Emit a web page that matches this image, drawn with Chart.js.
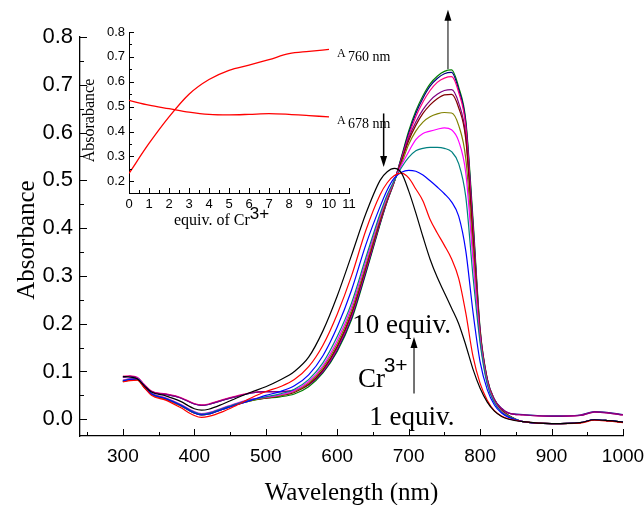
<!DOCTYPE html>
<html>
<head>
<meta charset="utf-8">
<script src="https://cdn.jsdelivr.net/npm/chart.js@4/dist/chart.umd.min.js"></script>
<style>
html,body{margin:0;padding:0;background:#fff;}
#wrap{position:relative;width:644px;height:505px;}
#wrap canvas{position:absolute;left:0;top:0;}
</style>
</head>
<body>
<div id="wrap">
<canvas id="main" width="644" height="505"></canvas>
<canvas id="inset" width="644" height="505"></canvas>
</div>
<script>
// ---------- main spectra data ----------
const wavelengths = [300,310,320,330,340,360,380,400,410,420,440,460,480,500,520,540,560,580,600,620,640,660,670,680,690,700,710,720,730,740,750,760,770,780,790,800,810,820,830,840,860,900,940,960,980,1000];

const eq1Black = [0.090,0.088,0.085,0.070,0.057,0.049,0.038,0.022,0.019,0.021,0.032,0.045,0.057,
  0.068,0.082,0.100,0.130,0.185,0.258,0.343,0.430,0.500,0.518,0.525,0.515,0.478,0.432,0.382,0.335,0.297,0.265,0.233,0.200,0.155,0.105,0.065,0.036,0.017,0.006,0.000,
  -0.005,-0.009,-0.007,-0.001,-0.003,-0.006];
const eq2Red = [0.078,0.081,0.082,0.066,0.050,0.040,0.025,0.008,0.004,0.006,0.016,0.030,0.045,
  0.058,0.068,0.083,0.110,0.155,0.220,0.300,0.395,0.470,0.495,0.510,0.515,0.505,0.482,0.457,0.418,0.390,0.364,0.336,0.295,0.222,0.132,0.075,0.040,0.018,0.007,0.001,
  -0.005,-0.009,-0.008,-0.002,-0.004,-0.007];
const eq3Blue = [0.080,0.083,0.084,0.068,0.053,0.043,0.030,0.013,0.009,0.011,0.021,0.031,0.040,
  0.050,0.058,0.070,0.093,0.133,0.193,0.270,0.365,0.445,0.480,0.505,0.517,0.521,0.519,0.511,0.499,0.486,0.472,0.455,0.425,0.352,0.225,0.120,0.062,0.030,0.013,0.004,
  -0.005,-0.009,-0.007,-0.001,-0.003,-0.006];
const eq4Teal = [0.081,0.084,0.085,0.069,0.054,0.044,0.031,0.015,0.011,0.013,0.023,0.033,0.041,
  0.047,0.053,0.063,0.083,0.118,0.173,0.243,0.338,0.430,0.470,0.500,0.527,0.548,0.562,0.567,0.569,0.569,0.567,0.560,0.535,0.465,0.300,0.160,0.073,0.035,0.015,0.006,
  -0.005,-0.009,-0.007,-0.001,-0.003,-0.006];
const eq5Magenta = [0.082,0.085,0.086,0.070,0.055,0.045,0.032,0.016,0.012,0.014,0.024,0.034,0.042,
  0.046,0.051,0.060,0.079,0.112,0.165,0.235,0.330,0.425,0.466,0.500,0.532,0.560,0.585,0.598,0.603,0.607,0.610,0.606,0.582,0.515,0.335,0.168,0.076,0.036,0.016,0.006,
  -0.005,-0.009,-0.007,-0.001,-0.003,-0.006];
const eq6Olive = [0.079,0.082,0.083,0.067,0.052,0.042,0.029,0.013,0.009,0.011,0.021,0.031,0.039,
  0.045,0.050,0.058,0.076,0.108,0.158,0.228,0.323,0.420,0.463,0.499,0.535,0.575,0.603,0.622,0.633,0.639,0.642,0.641,0.615,0.545,0.355,0.172,0.078,0.037,0.017,0.007,
  -0.005,-0.009,-0.007,-0.001,-0.003,-0.006];
const eq7Maroon = [0.080,0.083,0.084,0.068,0.053,0.043,0.030,0.014,0.010,0.012,0.022,0.032,0.040,
  0.044,0.049,0.056,0.073,0.104,0.153,0.222,0.318,0.416,0.461,0.499,0.540,0.583,0.615,0.640,0.658,0.671,0.679,0.680,0.652,0.585,0.380,0.178,0.080,0.038,0.018,0.008,
  -0.005,-0.009,-0.007,-0.001,-0.003,-0.006];
const eq8Purple = [0.088,0.090,0.087,0.072,0.058,0.052,0.045,0.032,0.029,0.031,0.040,0.048,0.055,
  0.058,0.058,0.060,0.072,0.102,0.150,0.219,0.315,0.414,0.460,0.499,0.542,0.588,0.622,0.648,0.667,0.680,0.688,0.690,0.662,0.592,0.385,0.180,0.082,0.040,0.022,0.013,
  0.009,0.006,0.008,0.015,0.013,0.009];
const eq9Pink = [0.090,0.091,0.088,0.073,0.059,0.053,0.046,0.033,0.030,0.032,0.041,0.049,0.056,
  0.058,0.058,0.061,0.074,0.101,0.148,0.216,0.312,0.412,0.458,0.498,0.545,0.593,0.633,0.664,0.688,0.705,0.714,0.717,0.684,0.612,0.400,0.183,0.083,0.041,0.022,0.013,
  0.009,0.006,0.008,0.015,0.013,0.009];
const eq10Navy = [0.088,0.090,0.087,0.072,0.058,0.052,0.045,0.032,0.029,0.031,0.040,0.048,0.055,
  0.058,0.058,0.060,0.072,0.099,0.145,0.212,0.308,0.410,0.457,0.498,0.548,0.598,0.640,0.672,0.697,0.713,0.723,0.726,0.690,0.620,0.410,0.186,0.084,0.042,0.023,0.013,
  0.010,0.007,0.009,0.016,0.014,0.010];
const eq11Green = [0.079,0.082,0.083,0.067,0.052,0.042,0.029,0.013,0.009,0.011,0.021,0.031,0.039,
  0.044,0.047,0.053,0.068,0.097,0.142,0.208,0.305,0.408,0.456,0.497,0.550,0.603,0.645,0.677,0.702,0.718,0.728,0.731,0.695,0.625,0.420,0.190,0.085,0.042,0.020,0.008,
  -0.005,-0.009,-0.007,-0.001,-0.003,-0.006];

const seriesList = [eq1Black, eq2Red, eq3Blue, eq4Teal, eq5Magenta, eq6Olive, eq7Maroon, eq8Purple, eq9Pink, eq10Navy, eq11Green];
const seriesColors = ['#000000','#ff0000','#0000ff','#008080','#ff00ff','#808000','#800000','#800080','#ff0080','#000080','#008000'];

const xTickValues = [300,400,500,600,700,800,900,1000];
const xMinorTicks = [250,350,450,550,650,750,850,950];
const yTickValues = [0.0,0.1,0.2,0.3,0.4,0.5,0.6,0.7,0.8];
const yMinorTicks = [-0.05,0.05,0.15,0.25,0.35,0.45,0.55,0.65,0.75];

// ---------- inset data ----------
const equivs = [0,1,2,3,4,5,6,7,8,9,10];
const a760 = [0.232,0.352,0.459,0.550,0.609,0.646,0.667,0.689,0.713,0.722,0.730];
const a678 = [0.525,0.506,0.492,0.478,0.469,0.467,0.469,0.472,0.469,0.464,0.459];
const insetXTicks = [0,1,2,3,4,5,6,7,8,9,10,11];
const insetXMinor = [0.5,1.5,2.5,3.5,4.5,5.5,6.5,7.5,8.5,9.5,10.5];
const insetYTicks = [0.2,0.3,0.4,0.5,0.6,0.7,0.8];
const insetYMinor = [0.25,0.35,0.45,0.55,0.65,0.75];

const SANS = '"Liberation Sans", Arial, sans-serif';
const SERIF = '"Liberation Serif", "Times New Roman", serif';

function arrow(ctx, x, y1, y2, lineColor) {
  const dir = y2 < y1 ? -1 : 1;
  ctx.save();
  ctx.strokeStyle = lineColor; ctx.lineWidth = 1.5;
  ctx.beginPath(); ctx.moveTo(x, y1); ctx.lineTo(x, y2 - dir * 8); ctx.stroke();
  ctx.fillStyle = '#000';
  ctx.beginPath();
  ctx.moveTo(x, y2);
  ctx.lineTo(x - 3.5, y2 - dir * 11);
  ctx.lineTo(x + 3.5, y2 - dir * 11);
  ctx.closePath(); ctx.fill();
  ctx.restore();
}

function drawInwardTicks(ctx, chart, xMaj, xMin, yMaj, yMin, majLen, minLen) {
  const xs = chart.scales.x, ys = chart.scales.y, a = chart.chartArea;
  ctx.save();
  ctx.strokeStyle = '#000'; ctx.lineWidth = 1;
  ctx.beginPath();
  xMaj.forEach(v => { const p = Math.round(xs.getPixelForValue(v)) + 0.5; ctx.moveTo(p, a.bottom); ctx.lineTo(p, a.bottom - majLen); });
  xMin.forEach(v => { const p = Math.round(xs.getPixelForValue(v)) + 0.5; ctx.moveTo(p, a.bottom); ctx.lineTo(p, a.bottom - minLen); });
  yMaj.forEach(v => { const p = Math.round(ys.getPixelForValue(v)) + 0.5; ctx.moveTo(a.left, p); ctx.lineTo(a.left + majLen, p); });
  yMin.forEach(v => { if (v < ys.min || v > ys.max) return; const p = Math.round(ys.getPixelForValue(v)) + 0.5; ctx.moveTo(a.left, p); ctx.lineTo(a.left + minLen, p); });
  ctx.stroke();
  ctx.restore();
}

const mainDecor = {
  id: 'mainDecor',
  afterDraw(chart) {
    const ctx = chart.ctx, xs = chart.scales.x, ys = chart.scales.y, a = chart.chartArea;
    drawInwardTicks(ctx, chart, xTickValues, xMinorTicks, yTickValues, yMinorTicks, 7, 4);
    ctx.save();
    ctx.fillStyle = '#000';
    ctx.font = '25px ' + SERIF;
    ctx.textAlign = 'center'; ctx.textBaseline = 'alphabetic';
    ctx.fillText('Wavelength (nm)', (a.left + a.right) / 2, 500);
    ctx.save();
    ctx.translate(34, 240); ctx.rotate(-Math.PI / 2);
    ctx.fillText('Absorbance', 0, 0);
    ctx.restore();
    arrow(ctx, xs.getPixelForValue(755), ys.getPixelForValue(0.733), ys.getPixelForValue(0.857), '#555');
    arrow(ctx, xs.getPixelForValue(665), ys.getPixelForValue(0.64), ys.getPixelForValue(0.528), '#000');
    arrow(ctx, xs.getPixelForValue(707.5), ys.getPixelForValue(0.054), ys.getPixelForValue(0.172), '#444');
    ctx.textAlign = 'left';
    ctx.font = '27px ' + SERIF;
    ctx.fillText('10 equiv.', xs.getPixelForValue(621), ys.getPixelForValue(0.18));
    ctx.fillText('Cr', xs.getPixelForValue(629), ys.getPixelForValue(0.067));
    ctx.fillText('1 equiv.', xs.getPixelForValue(645), ys.getPixelForValue(-0.013));
    ctx.font = '21px ' + SANS;
    ctx.fillText('3+', xs.getPixelForValue(665), ys.getPixelForValue(0.098));
    ctx.restore();
  }
};

new Chart(document.getElementById('main'), {
  type: 'line',
  data: {
    labels: wavelengths,
    datasets: seriesList.map((s, i) => ({
      data: s.map((v, j) => ({x: wavelengths[j], y: v})),
      borderColor: seriesColors[i],
      borderWidth: 1.2,
      pointRadius: 0,
      fill: false,
      cubicInterpolationMode: 'monotone'
    }))
  },
  options: {
    responsive: false, devicePixelRatio: 1, animation: false, events: [],
    layout: {padding: {left: 0, top: 37, right: 21, bottom: 0}},
    plugins: {legend: {display: false}, tooltip: {enabled: false}},
    scales: {
      x: {
        type: 'linear', min: 240, max: 1000,
        afterFit: s => { s.height = 69; s.paddingLeft = 0; s.paddingRight = 0; },
        afterBuildTicks: s => { s.ticks = xTickValues.map(v => ({value: v})); },
        grid: {display: false, drawTicks: false},
        border: {display: true, color: '#000', width: 1.3},
        ticks: {color: '#000', font: {family: SANS, size: 19}, padding: 9, maxRotation: 0, autoSkip: false, callback: v => String(v)}
      },
      y: {
        type: 'linear', min: -0.035, max: 0.8,
        afterFit: s => { s.width = 80; s.paddingTop = 0; s.paddingBottom = 0; },
        afterBuildTicks: s => { s.ticks = yTickValues.map(v => ({value: v})); },
        grid: {display: false, drawTicks: false},
        border: {display: true, color: '#000', width: 1.3},
        ticks: {color: '#000', font: {family: SANS, size: 22}, padding: 7, autoSkip: false, callback: v => Number(v).toFixed(1)}
      }
    }
  },
  plugins: [mainDecor]
});

const insetDecor = {
  id: 'insetDecor',
  afterDraw(chart) {
    const ctx = chart.ctx, xs = chart.scales.x, ys = chart.scales.y, a = chart.chartArea;
    drawInwardTicks(ctx, chart, insetXTicks, insetXMinor, insetYTicks, insetYMinor, 5, 3);
    ctx.save();
    ctx.fillStyle = '#000';
    ctx.textBaseline = 'alphabetic'; ctx.textAlign = 'left';
    ctx.font = '16px ' + SERIF;
    const tx = a.left + 45;
    ctx.fillText('equiv. of Cr', tx, 225);
    const w = ctx.measureText('equiv. of Cr').width;
    ctx.font = '17px ' + SANS;
    ctx.fillText('3+', tx + w, 219);
    ctx.font = '16px ' + SERIF;
    ctx.save();
    ctx.translate(a.left - 35, (a.top + a.bottom) / 2 + 8);
    ctx.rotate(-Math.PI / 2);
    ctx.textAlign = 'center';
    ctx.fillText('Absorabance', 0, 0);
    ctx.restore();
    ctx.font = '12px ' + SERIF;
    ctx.fillText('A', xs.getPixelForValue(10.4), ys.getPixelForValue(0.699));
    ctx.fillText('A', xs.getPixelForValue(10.4), ys.getPixelForValue(0.43));
    ctx.font = '14px ' + SERIF;
    ctx.fillText('760 nm', xs.getPixelForValue(10.95), ys.getPixelForValue(0.683));
    ctx.fillText('678 nm', xs.getPixelForValue(10.95), ys.getPixelForValue(0.415));
    ctx.restore();
  }
};

new Chart(document.getElementById('inset'), {
  type: 'line',
  data: {
    labels: equivs,
    datasets: [
      {data: equivs.map((e, i) => ({x: e, y: a760[i]})), borderColor: '#ff0000', borderWidth: 1.3, pointRadius: 0, cubicInterpolationMode: 'monotone'},
      {data: equivs.map((e, i) => ({x: e, y: a678[i]})), borderColor: '#ff0000', borderWidth: 1.3, pointRadius: 0, cubicInterpolationMode: 'monotone'}
    ]
  },
  options: {
    responsive: false, devicePixelRatio: 1, animation: false, events: [],
    layout: {padding: {left: 89, top: 32, right: 295, bottom: 282}},
    plugins: {legend: {display: false}, tooltip: {enabled: false}},
    scales: {
      x: {
        type: 'linear', min: 0, max: 11,
        afterFit: s => { s.height = 30; s.paddingLeft = 0; s.paddingRight = 0; },
        afterBuildTicks: s => { s.ticks = insetXTicks.map(v => ({value: v})); },
        grid: {display: false, drawTicks: false},
        border: {display: true, color: '#000', width: 1},
        ticks: {color: '#000', font: {family: SANS, size: 13}, padding: 4, maxRotation: 0, autoSkip: false, callback: v => String(v)}
      },
      y: {
        type: 'linear', min: 0.153, max: 0.8,
        afterFit: s => { s.width = 40; s.paddingTop = 0; s.paddingBottom = 0; },
        afterBuildTicks: s => { s.ticks = insetYTicks.map(v => ({value: v})); },
        grid: {display: false, drawTicks: false},
        border: {display: true, color: '#000', width: 1},
        ticks: {color: '#000', font: {family: SANS, size: 13}, padding: 4, autoSkip: false, callback: v => Number(v).toFixed(1)}
      }
    }
  },
  plugins: [insetDecor]
});
</script>
</body>
</html>
